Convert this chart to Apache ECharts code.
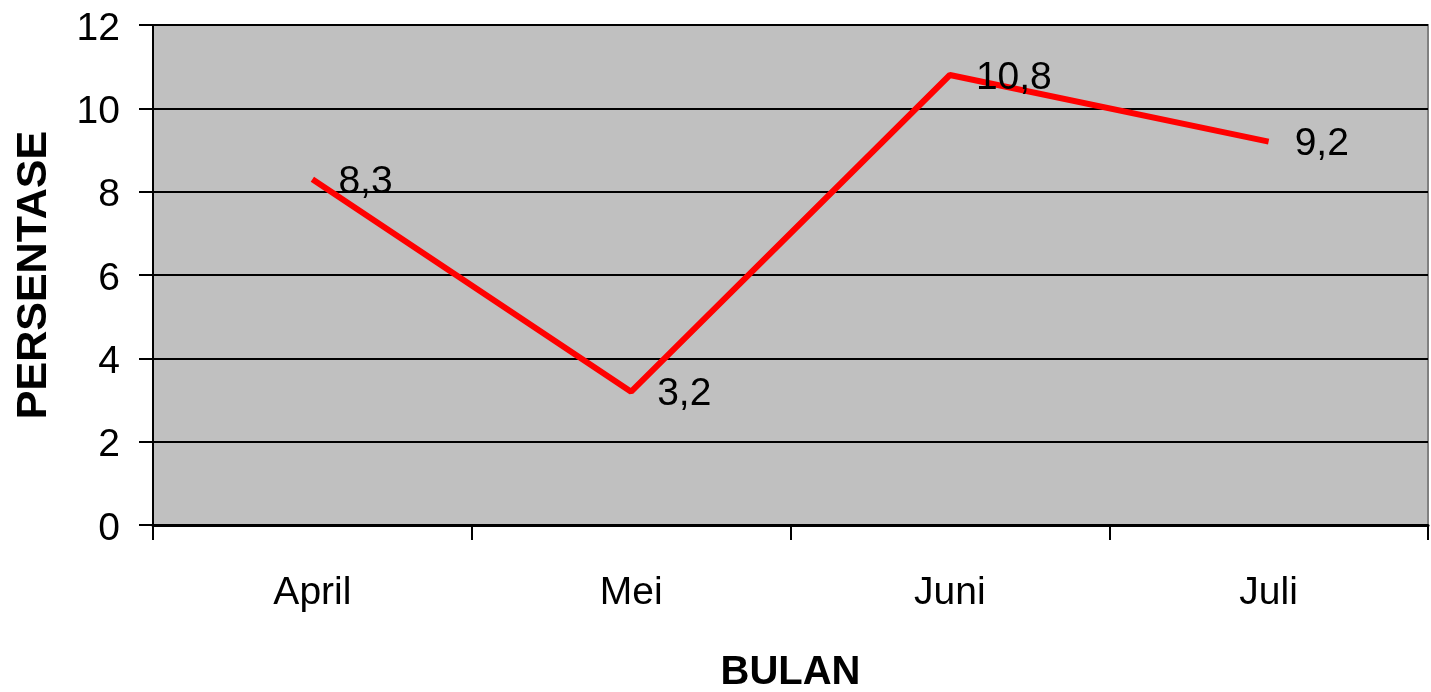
<!DOCTYPE html>
<html>
<head>
<meta charset="utf-8">
<script src="https://cdn.jsdelivr.net/npm/echarts@6/dist/echarts.min.js"></script>
<style>html,body{margin:0;padding:0;background:#fff}#c{width:1431px;height:692px}</style>
</head>
<body>
<div id="c"></div>
<script>
const categories = ['April', 'Mei', 'Juni', 'Juli'];
const values = [8.3, 3.2, 10.8, 9.2];
const valueLabels = ['8,3', '3,2', '10,8', '9,2'];
const yAxisName = 'PERSENTASE';
const xAxisName = 'BULAN';

const chart = echarts.init(document.getElementById('c'));
const font = 'Arial, "Liberation Sans", sans-serif';
chart.setOption({
  animation: false,
  grid: {
    left: 153, top: 25, right: 3, bottom: 167,
    show: true, backgroundColor: '#c0c0c0', borderColor: '#808080', borderWidth: 2,
    containLabel: false,
    outerBoundsMode: 'none'
  },
  xAxis: {
    type: 'category',
    data: categories,
    boundaryGap: true,
    name: xAxisName,
    nameLocation: 'middle',
    nameGap: 128,
    nameTextStyle: { fontFamily: font, fontSize: 40, fontWeight: 'bold', color: '#000' },
    axisLine: { lineStyle: { color: '#000', width: 3 } },
    axisTick: { show: true, length: 15, interval: 0, lineStyle: { color: '#000', width: 2 } },
    axisLabel: { fontFamily: font, fontSize: 39, color: '#000', margin: 49, interval: 0 },
    splitLine: { show: false }
  },
  yAxis: {
    type: 'value',
    min: 0, max: 12, interval: 2,
    name: yAxisName,
    nameLocation: 'middle',
    nameGap: 97,
    nameRotate: 90,
    nameTextStyle: { fontFamily: font, fontSize: 43, fontWeight: 'bold', color: '#000' },
    axisLine: { show: true, lineStyle: { color: '#000', width: 2 } },
    axisTick: { show: true, length: 14, lineStyle: { color: '#000', width: 2 } },
    axisLabel: { fontFamily: font, fontSize: 39, color: '#000', margin: 33, verticalAlign: 'top', lineHeight: 8 },
    splitLine: { show: true, lineStyle: { color: '#000', width: 2 } }
  },
  series: [{
    type: 'line',
    data: values,
    showSymbol: true,
    symbol: 'circle',
    symbolSize: 0,
    lineStyle: { color: '#ff0000', width: 6 },
    itemStyle: { color: '#ff0000' },
    label: {
      show: true,
      position: 'right',
      distance: 26,
      offset: [0, 3],
      fontFamily: font, fontSize: 39, color: '#000',
      formatter: p => valueLabels[p.dataIndex]
    }
  }]
});
</script>
</body>
</html>
